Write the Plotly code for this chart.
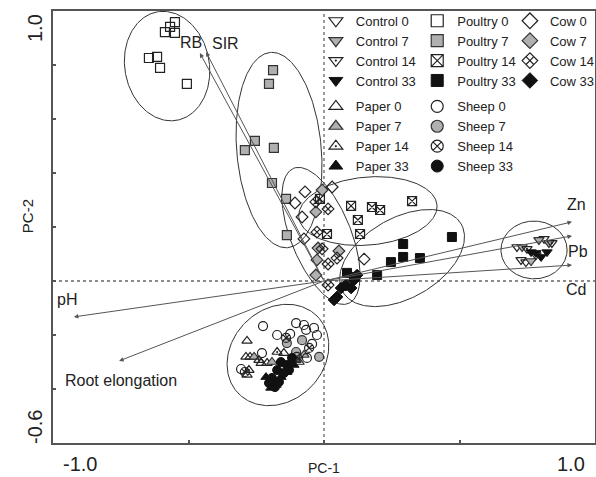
import numpy as np
import plotly.graph_objects as go

# ---------------- data (PC scores) ----------------
control0_x = [0.712, 0.812, 0.727, 0.745]
control0_y = [0.126, 0.156, 0.078, 0.070]
control7_x = [0.731, 0.830, 0.764, 0.793]
control7_y = [0.126, 0.141, 0.074, 0.152]
control14_x = [0.749, 0.841, 0.782]
control14_y = [0.119, 0.141, 0.096]
control33_x = [0.764, 0.782, 0.823, 0.801]
control33_y = [0.107, 0.104, 0.107, 0.089]

paper0_x = [-0.284, -0.288, -0.273, -0.284, -0.232, -0.210, -0.148]
paper0_y = [-0.222, -0.281, -0.281, -0.348, -0.304, -0.304, -0.267]
paper7_x = [-0.192, -0.258, -0.074, -0.103]
paper7_y = [-0.300, -0.281, -0.274, -0.293]
paper14_x = [-0.240, -0.277, -0.092, -0.173]
paper14_y = [-0.293, -0.330, -0.300, -0.263]
paper33_x = [-0.214, -0.159, -0.196, -0.137, -0.177, -0.111]
paper33_y = [-0.356, -0.356, -0.396, -0.337, -0.385, -0.311]

poultry0_x = [-0.550, -0.568, -0.587, -0.550, -0.646, -0.616, -0.605, -0.506]
poultry0_y = [0.959, 0.941, 0.922, 0.919, 0.826, 0.830, 0.789, 0.730]
poultry7_x = [-0.188, -0.203, -0.255, -0.292, -0.185, -0.192, -0.140, -0.137]
poultry7_y = [0.781, 0.730, 0.519, 0.485, 0.493, 0.363, 0.304, 0.170]
poultry14_x = [-0.015, 0.100, 0.177, 0.207, 0.325, 0.125, 0.133, 0.011]
poultry14_y = [0.304, 0.278, 0.274, 0.263, 0.296, 0.226, 0.174, 0.174]
poultry33_x = [0.472, 0.292, 0.292, 0.354, 0.247, 0.196, 0.085, 0.111]
poultry33_y = [0.163, 0.137, 0.089, 0.085, 0.070, 0.022, 0.030, 0.015]

sheep0_x = [-0.225, -0.103, -0.074, -0.037, -0.066, -0.026, -0.044, -0.173, -0.125, -0.306, -0.229, -0.063]
sheep0_y = [-0.167, -0.156, -0.163, -0.174, -0.181, -0.200, -0.233, -0.200, -0.196, -0.326, -0.267, -0.285]
sheep7_x = [-0.018, -0.137, -0.103, -0.081]
sheep7_y = [-0.281, -0.230, -0.263, -0.219]
sheep14_x = [-0.140, -0.100, -0.055, -0.292]
sheep14_y = [-0.211, -0.281, -0.248, -0.337]
sheep33_x = [-0.159, -0.137, -0.173, -0.148, -0.192, -0.203, -0.166, -0.129, -0.118, -0.181]
sheep33_y = [-0.300, -0.311, -0.330, -0.341, -0.359, -0.378, -0.374, -0.330, -0.285, -0.393]

cow0_x = [-0.070, 0.030, -0.107, -0.081, -0.074, 0.148]
cow0_y = [0.330, 0.348, 0.289, 0.237, 0.156, 0.081]
cow7_x = [-0.007, -0.030, -0.022, -0.026, -0.030, 0.055]
cow7_y = [0.337, 0.256, 0.122, 0.078, 0.022, 0.111]
cow14_x = [-0.030, 0.015, -0.026, -0.007, 0.015, 0.048, 0.015]
cow14_y = [0.293, 0.267, 0.181, 0.119, 0.063, 0.085, -0.015]
cow33_x = [0.081, 0.111, 0.063, 0.048, 0.100, 0.122, 0.037]
cow33_y = [-0.015, 0.004, -0.026, -0.059, -0.026, 0.022, -0.070]

# loadings (arrow tips) and their labels
load_names = ["RB", "SIR", "Zn", "Pb", "Cd", "pH", "Root elongation"]
load_x = [-0.458, -0.435, 0.915, 0.915, 0.915, -0.923, -0.756]
load_y = [0.844, 0.848, 0.219, 0.167, 0.059, -0.133, -0.296]
label_x = [-0.491, -0.365, 0.930, 0.937, 0.930, -0.948, -0.749]
label_y = [0.885, 0.881, 0.285, 0.111, -0.033, -0.070, -0.367]

# group ellipses: centre x, centre y, semi-axis a, semi-axis b, angle (deg)
ell_cx = [-0.579, -0.166, -0.011, 0.162, 0.288, 0.775, -0.170]
ell_cy = [0.796, 0.485, 0.167, 0.259, 0.085, 0.115, -0.274]
ell_a = [0.204, 0.363, 0.270, 0.256, 0.252, 0.122, 0.204]
ell_b = [0.156, 0.156, 0.111, 0.126, 0.148, 0.107, 0.170]
ell_ang = [100, 95, 112, 5, 30, 0, 45]

xtick_vals = [-1.0, 1.0]
xtick_text = ["-1.0", "1.0"]
ytick_vals = [1.0, -0.6]
ytick_text = ["1.0", "-0.6"]

# ---------------- styling ----------------
FONT = "Arial, Liberation Sans, sans-serif"
INK = "#222222"
GRAY = "#b0b0b0"

series = [
    # name, x, y, symbol, fill-kind, legend, group
    ("Control 0", control0_x, control0_y, "triangle-down", "open", "legend", "control"),
    ("Control 7", control7_x, control7_y, "triangle-down", "gray", "legend", "control"),
    ("Control 14", control14_x, control14_y, "triangle-down", "hatch", "legend", "control"),
    ("Control 33", control33_x, control33_y, "triangle-down", "black", "legend", "control"),
    ("Paper 0", paper0_x, paper0_y, "triangle-up", "open", "legend", "paper"),
    ("Paper 7", paper7_x, paper7_y, "triangle-up", "gray", "legend", "paper"),
    ("Paper 14", paper14_x, paper14_y, "triangle-up", "hatch", "legend", "paper"),
    ("Paper 33", paper33_x, paper33_y, "triangle-up", "black", "legend", "paper"),
    ("Poultry 0", poultry0_x, poultry0_y, "square", "open", "legend2", "poultry"),
    ("Poultry 7", poultry7_x, poultry7_y, "square", "gray", "legend2", "poultry"),
    ("Poultry 14", poultry14_x, poultry14_y, "square", "hatch", "legend2", "poultry"),
    ("Poultry 33", poultry33_x, poultry33_y, "square", "black", "legend2", "poultry"),
    ("Sheep 0", sheep0_x, sheep0_y, "circle", "open", "legend2", "sheep"),
    ("Sheep 7", sheep7_x, sheep7_y, "circle", "gray", "legend2", "sheep"),
    ("Sheep 14", sheep14_x, sheep14_y, "circle", "hatch", "legend2", "sheep"),
    ("Sheep 33", sheep33_x, sheep33_y, "circle", "black", "legend2", "sheep"),
    ("Cow 0", cow0_x, cow0_y, "diamond", "open", "legend3", "cow"),
    ("Cow 7", cow7_x, cow7_y, "diamond", "gray", "legend3", "cow"),
    ("Cow 14", cow14_x, cow14_y, "diamond", "hatch", "legend3", "cow"),
    ("Cow 33", cow33_x, cow33_y, "diamond", "black", "legend3", "cow"),
]


def marker_style(base, kind, size):
    if kind == "open":
        return dict(symbol=base + "-open", size=size, color=INK, line=dict(width=1.2, color=INK))
    if kind == "hatch":
        if base in ("square", "circle", "diamond"):
            sym = base + "-x-open"
        else:
            sym = base + "-open-dot"
        return dict(symbol=sym, size=size, color=INK, line=dict(width=1.2, color=INK))
    if kind == "gray":
        return dict(symbol=base, size=size, color=GRAY, line=dict(width=1.2, color="#333333"))
    return dict(symbol=base, size=size, color="#111111", line=dict(width=1, color="#111111"))


fig = go.Figure()

# ellipses
t = np.linspace(0, 2 * np.pi, 241)
for cx, cy, a, b, ang in zip(ell_cx, ell_cy, ell_a, ell_b, ell_ang):
    th = np.deg2rad(ang)
    ex = cx + a * np.cos(t) * np.cos(th) - b * np.sin(t) * np.sin(th)
    ey = cy + a * np.cos(t) * np.sin(th) + b * np.sin(t) * np.cos(th)
    fig.add_trace(go.Scatter(x=ex, y=ey, mode="lines", line=dict(color="#333333", width=1),
                             showlegend=False, hoverinfo="skip"))

# data points
for name, xs, ys, base, kind, leg, grp in series:
    fig.add_trace(go.Scatter(x=xs, y=ys, mode="markers", name=name, legendgroup=grp,
                             showlegend=False, marker=marker_style(base, kind, 9)))

# legend entries (larger symbols as in the original key)
for name, xs, ys, base, kind, leg, grp in series:
    fig.add_trace(go.Scatter(x=[None], y=[None], mode="markers", name=name, legendgroup=grp,
                             legend=leg, showlegend=True, marker=marker_style(base, kind, 12)))

# zero reference lines
fig.add_shape(type="line", xref="x", yref="y", x0=0, x1=0, y0=-0.6, y1=1.0,
              line=dict(color="#666666", width=1.3, dash="dot"), layer="below")
fig.add_shape(type="line", xref="x", yref="y", x0=-1, x1=1, y0=0, y1=0,
              line=dict(color="#666666", width=1.3, dash="dot"), layer="below")

annotations = []
# loading arrows
for lx, ly in zip(load_x, load_y):
    annotations.append(dict(x=lx, y=ly, ax=0, ay=0, xref="x", yref="y", axref="x", ayref="y",
                            text="", showarrow=True, arrowhead=2, arrowsize=0.9, arrowwidth=1,
                            arrowcolor="#555555"))
for name, tx, ty in zip(load_names, label_x, label_y):
    annotations.append(dict(x=tx, y=ty, xref="x", yref="y", text=name, showarrow=False,
                            font=dict(family=FONT, size=16, color=INK)))

# tick labels (placed inside the axis ends as in the original)
annotations.append(dict(x=xtick_vals[0], y=-0.6, xref="x", yref="y", text=xtick_text[0],
                        showarrow=False, xanchor="left", yanchor="top", xshift=8, yshift=-8,
                        font=dict(family=FONT, size=20, color=INK)))
annotations.append(dict(x=xtick_vals[1], y=-0.6, xref="x", yref="y", text=xtick_text[1],
                        showarrow=False, xanchor="right", yanchor="top", xshift=-8, yshift=-8,
                        font=dict(family=FONT, size=20, color=INK)))
annotations.append(dict(x=-1.0, y=ytick_vals[0], xref="x", yref="y", text=ytick_text[0],
                        showarrow=False, textangle=-90, xshift=-18, yshift=-17,
                        font=dict(family=FONT, size=20, color=INK)))
annotations.append(dict(x=-1.0, y=ytick_vals[1], xref="x", yref="y", text=ytick_text[1],
                        showarrow=False, textangle=-90, xshift=-18, yshift=16,
                        font=dict(family=FONT, size=20, color=INK)))
# axis titles
annotations.append(dict(x=0.0, y=-0.6, xref="x", yref="y", text="PC-1", showarrow=False,
                        yanchor="top", yshift=-15, font=dict(family=FONT, size=14, color=INK)))
annotations.append(dict(x=-1.0, y=0.24, xref="x", yref="y", text="PC-2", showarrow=False,
                        textangle=-90, xshift=-26, font=dict(family=FONT, size=15, color=INK)))

axis_common = dict(showgrid=False, zeroline=False, showline=True, mirror=True,
                   linecolor="#555555", linewidth=2, ticks="inside", ticklen=3,
                   tickwidth=2, tickcolor="#555555", showticklabels=False)

legend_common = dict(yanchor="top", xanchor="left", y=1.012, bgcolor="rgba(0,0,0,0)",
                     font=dict(family=FONT, size=13, color=INK), traceorder="grouped",
                     tracegroupgap=6, itemclick="toggleothers")

fig.update_layout(
    width=596, height=477,
    margin=dict(l=53, r=1, t=11, b=34, autoexpand=False),
    paper_bgcolor="white", plot_bgcolor="white",
    xaxis=dict(range=[-1, 1], tickvals=[-1, -0.5, 0, 0.5, 1], **axis_common),
    yaxis=dict(range=[-0.6, 1.0], tickvals=[-0.6, -0.4, -0.2, 0, 0.2, 0.4, 0.6, 0.8, 1.0], **axis_common),
    legend=dict(x=0.485, **legend_common),
    legend2=dict(x=0.672, **legend_common),
    legend3=dict(x=0.843, **legend_common),
    annotations=annotations,
    font=dict(family=FONT, color=INK),
)

fig.write_html("out.html")
